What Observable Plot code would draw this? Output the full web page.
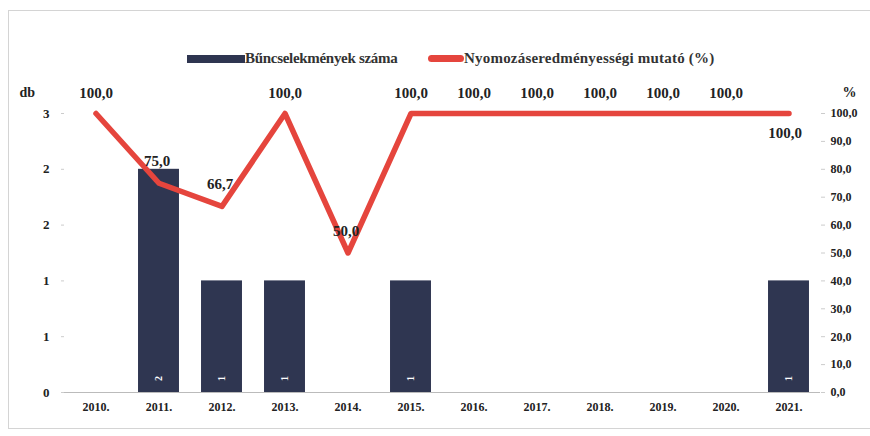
<!DOCTYPE html>
<html><head><meta charset="utf-8">
<script src="https://cdn.jsdelivr.net/npm/d3@7"></script>
<script src="https://cdn.jsdelivr.net/npm/@observablehq/plot@0.6"></script>
<style>
body{margin:0;background:#fff;}
#wrap{position:relative;width:870px;height:436px;overflow:hidden;background:#fff;}
#frame{position:absolute;left:8px;top:10px;width:870px;height:419px;border:1px solid #d4d4d4;box-sizing:border-box;}
#legend{position:absolute;left:0;top:50px;width:870px;height:22px;font-family:"Liberation Serif";font-size:15px;color:#333;}
.lg{position:absolute;top:0;display:flex;align-items:center;white-space:nowrap;}
#chart{position:absolute;left:0;top:75px;}
</style></head>
<body><div id="wrap"><div id="frame"></div>
<div id="legend">
 <div class="lg" style="left:187px"><span style="display:inline-block;width:58px;height:8px;background:#2e3550"></span><span style="font-weight:bold;letter-spacing:-0.3px">Bűncselekmények száma</span></div>
 <div class="lg" style="left:428px"><span style="display:inline-block;width:36px;height:7px;border-radius:4px;background:#e5453d"></span><span style="font-weight:bold;letter-spacing:0.2px">Nyomozáseredményességi mutató (%)</span></div>
</div>
<div id="chart"></div></div>
<script>
const years = ["2010.","2011.","2012.","2013.","2014.","2015.","2016.","2017.","2018.","2019.","2020.","2021."];
const crimes = [0,2,1,1,0,1,0,0,0,0,0,1];
const rate = [100,75,66.7,100,50,100,100,100,100,100,100,100];
const leftTicks = [0,0.5,1,1.5,2,2.5];
const rightTicks = [0,10,20,30,40,50,60,70,80,90,100];

const pctMax = 100, dbMax = 2.5;
const toY = p => p / pctMax * dbMax;
const data = years.map((y,i)=>({year:y, crimes:crimes[i], rate:rate[i], ry:toY(rate[i])}));
const barData = data.filter(d=>d.crimes>0);
const fmt = v => v.toFixed(1).replace(".", ",");
const nearData = data.filter(d=>d.rate<100);
const topData = data.filter((d,i)=>d.rate===100 && i<years.length-1);
const lastData = data.filter((d,i)=>i===years.length-1);
const ff = "Liberation Serif";

const chart = Plot.plot({
  width: 870, height: 361,
  marginLeft: 64, marginRight: 50, marginTop: 38, marginBottom: 44,
  style:{fontFamily:ff, fontSize:"12px", fontWeight:"bold", color:"#222"},
  x:{domain:years, paddingInner:0.35, paddingOuter:0.175, round:false, label:null},
  y:{domain:[0,dbMax], label:null},
  marks:[
    Plot.ruleY([0],{stroke:"#bbb"}),
    Plot.axisY(leftTicks,{anchor:"left", tickFormat:d=>Math.round(d+0.001).toString(), tickSize:3, stroke:"#ccc", tickPadding:12, fontSize:13, fontFamily:ff, label:null}),
    Plot.axisY(rightTicks.map(toY),{anchor:"right", tickFormat:d=>fmt(d/dbMax*pctMax), tickSize:4, stroke:"#ccc", tickPadding:6, fontSize:12, fontFamily:ff, label:null}),
    Plot.axisX({tickSize:0, tickPadding:10, fontSize:12, fontFamily:ff, label:null}),
    Plot.barY(barData,{x:"year", y:"crimes", fill:"#2f3651"}),
    Plot.text(barData,{x:"year", y:0, text:d=>String(d.crimes), fill:"#fff", fontSize:10, rotate:-90, dy:-14, fontFamily:ff}),
    Plot.lineY(data,{x:"year", y:"ry", stroke:"#e5453d", strokeWidth:5.5, strokeLinejoin:"round", strokeLinecap:"round"}),
    Plot.text(topData,{x:"year", y:"ry", text:d=>fmt(d.rate), dy:-20, fontSize:15, fontWeight:"bold", fontFamily:ff, fill:"#222"}),
    Plot.text(nearData,{x:"year", y:"ry", text:d=>fmt(d.rate), dy:-22, dx:-2, fontSize:15, fontWeight:"bold", fontFamily:ff, fill:"#222"}),
    Plot.text(lastData,{x:"year", y:"ry", text:d=>fmt(d.rate), dy:20, dx:-4, fontSize:15, fontWeight:"bold", fontFamily:ff, fill:"#222"}),
    Plot.text(["db"],{frameAnchor:"top-left", dx:-45, dy:-26, text:d=>d, fontSize:14, fontWeight:"bold", fontFamily:ff}),
    Plot.text(["%"],{frameAnchor:"top-right", dx:36, dy:-26, text:d=>d, fontSize:14, fontWeight:"bold", fontFamily:ff})
  ]
});
document.getElementById("chart").appendChild(chart);
</script></body></html>
